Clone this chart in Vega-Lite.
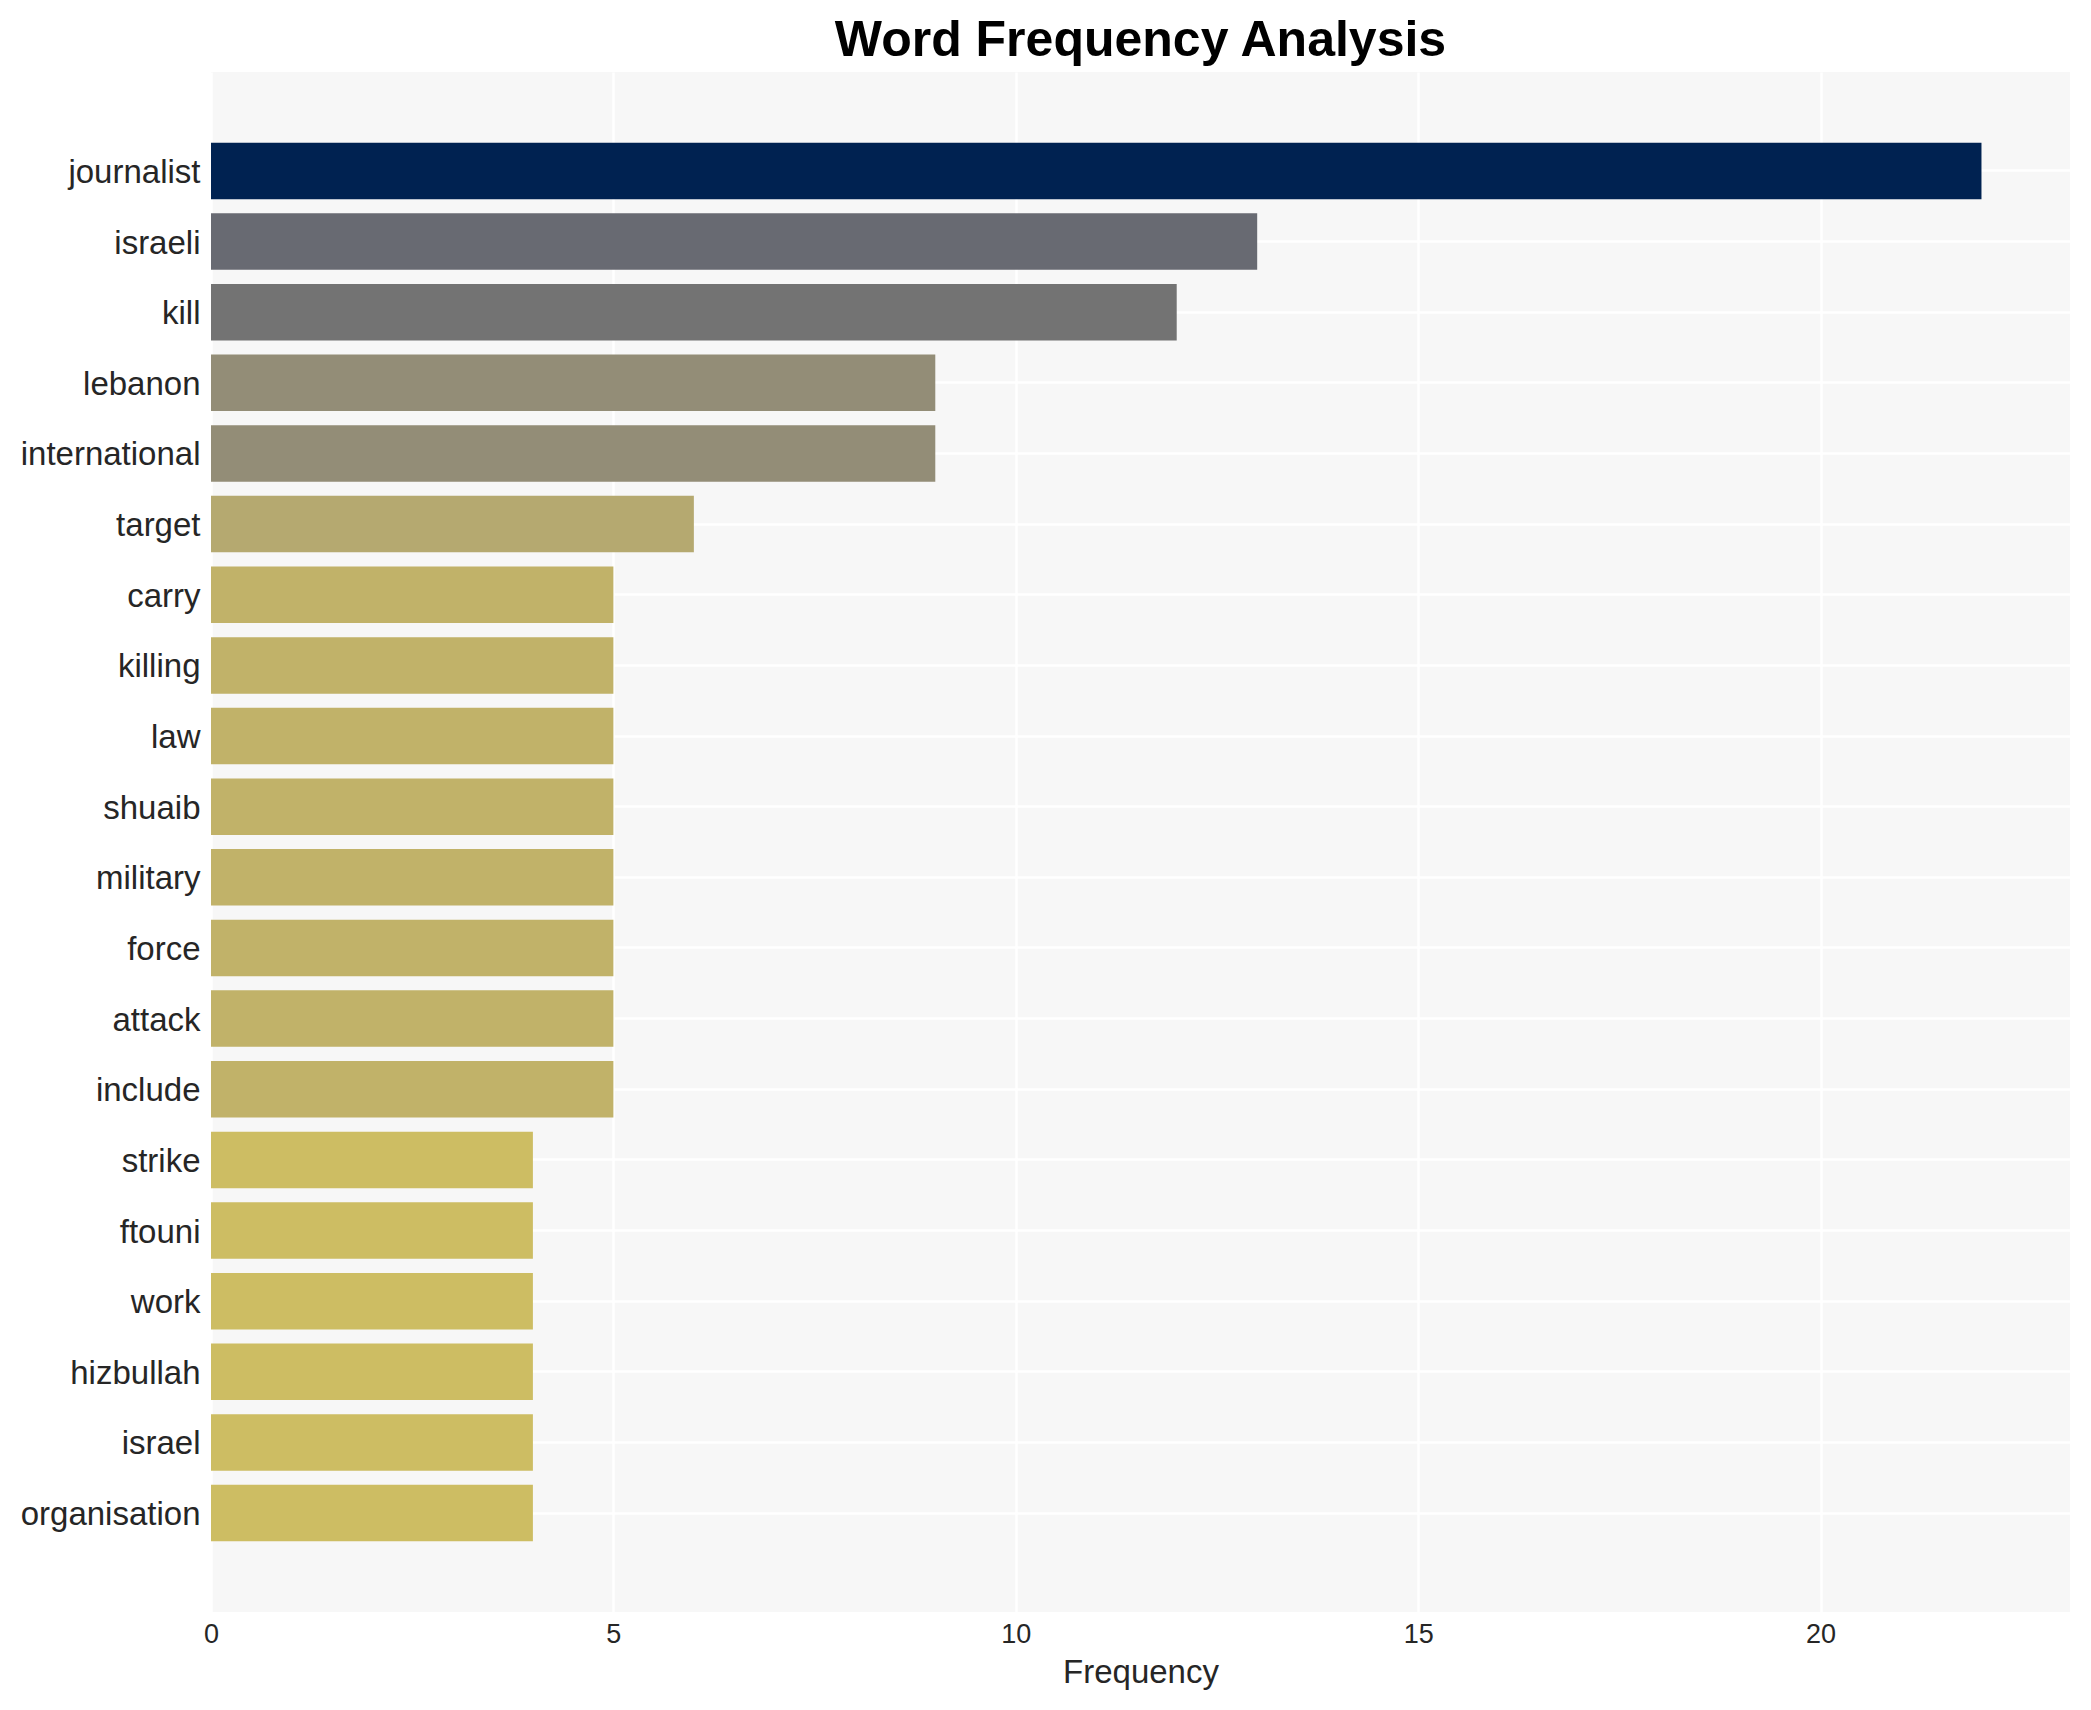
{
  "$schema": "https://vega.github.io/schema/vega-lite/v6.json",
  "width": 1859,
  "height": 1540,
  "padding": {"left": 20, "top": 16, "right": 21, "bottom": 10},
  "background": "white",
  "title": {
    "text": "Word Frequency Analysis",
    "fontSize": 50,
    "font": "Liberation Sans",
    "fontWeight": "bold",
    "color": "#000000",
    "anchor": "middle",
    "offset": 6
  },
  "data": {
    "values": [
      {"word": "journalist", "frequency": 22},
      {"word": "israeli", "frequency": 13},
      {"word": "kill", "frequency": 12},
      {"word": "lebanon", "frequency": 9},
      {"word": "international", "frequency": 9},
      {"word": "target", "frequency": 6},
      {"word": "carry", "frequency": 5},
      {"word": "killing", "frequency": 5},
      {"word": "law", "frequency": 5},
      {"word": "shuaib", "frequency": 5},
      {"word": "military", "frequency": 5},
      {"word": "force", "frequency": 5},
      {"word": "attack", "frequency": 5},
      {"word": "include", "frequency": 5},
      {"word": "strike", "frequency": 4},
      {"word": "ftouni", "frequency": 4},
      {"word": "work", "frequency": 4},
      {"word": "hizbullah", "frequency": 4},
      {"word": "israel", "frequency": 4},
      {"word": "organisation", "frequency": 4}
    ]
  },
  "mark": {"type": "bar"},
  "encoding": {
    "y": {
      "field": "word",
      "type": "nominal",
      "sort": ["journalist", "israeli", "kill", "lebanon", "international", "target", "carry", "killing", "law", "shuaib", "military", "force", "attack", "include", "strike", "ftouni", "work", "hizbullah", "israel", "organisation"],
      "scale": {"paddingInner": 0.2, "paddingOuter": 1.0},
      "axis": {
        "title": null,
        "labelFontSize": 33,
        "labelFont": "Liberation Sans",
        "labelColor": "#262626",
        "labelPadding": 11,
        "labelOffset": 2,
        "ticks": false,
        "tickSize": 0,
        "domain": false,
        "grid": true,
        "gridColor": "#FFFFFF",
        "gridWidth": 2.5,
        "bandPosition": 0.5
      }
    },
    "x": {
      "field": "frequency",
      "type": "quantitative",
      "scale": {"domain": [0, 23.1], "nice": false, "zero": true},
      "axis": {
        "title": "Frequency",
        "values": [0, 5, 10, 15, 20],
        "labelFontSize": 27,
        "labelFont": "Liberation Sans",
        "labelColor": "#262626",
        "labelPadding": 9,
        "labelFlush": false,
        "ticks": false,
        "tickSize": 0,
        "domain": false,
        "grid": true,
        "gridColor": "#FFFFFF",
        "gridWidth": 2.5,
        "titleFontSize": 33,
        "titleFont": "Liberation Sans",
        "titleFontWeight": "normal",
        "titleColor": "#262626",
        "titlePadding": 9
      }
    },
    "color": {
      "field": "frequency",
      "type": "ordinal",
      "scale": {
        "domain": [22, 13, 12, 9, 6, 5, 4],
        "range": ["#002251", "#686A72", "#737373", "#938D77", "#B5A970", "#C1B269", "#CDBD63"]
      },
      "legend": null
    }
  },
  "config": {
    "view": {"fill": "#F7F7F7", "stroke": null}
  }
}
